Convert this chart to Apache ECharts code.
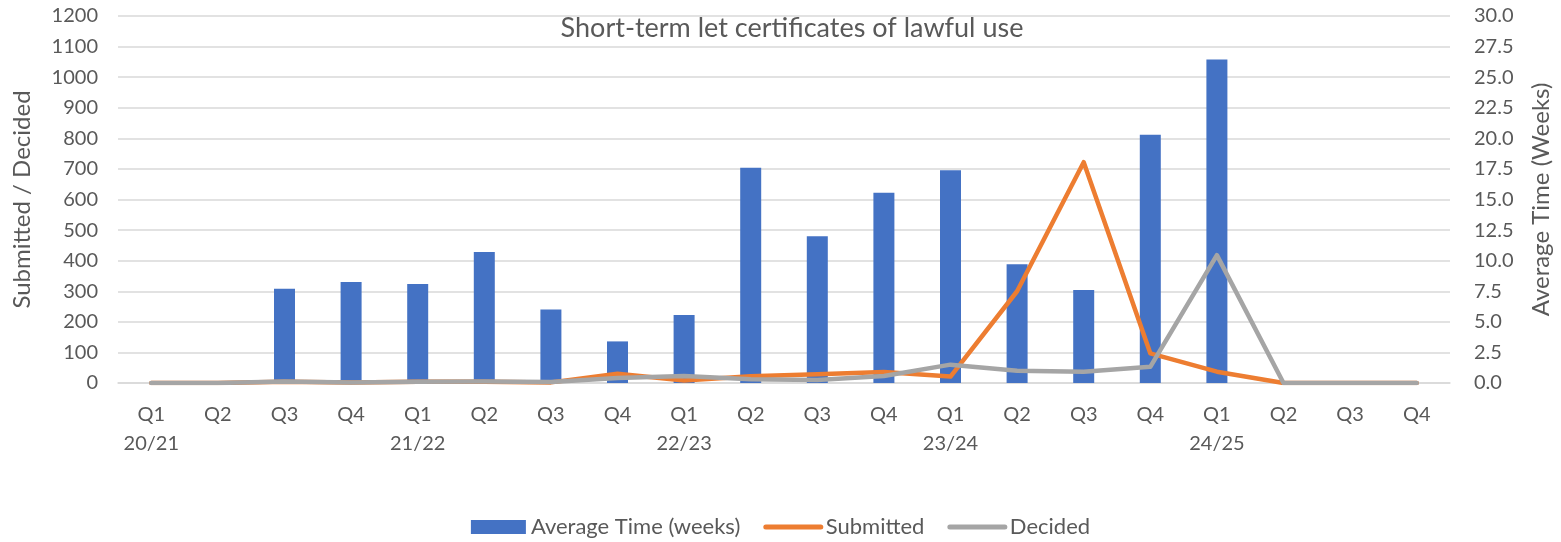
<!DOCTYPE html>
<html>
  <head>
    <meta charset="utf-8" />
    <title>Short-term let certificates</title>
    <script src="https://cdn.jsdelivr.net/npm/echarts@6/dist/echarts.min.js"></script>
  </head>
  <body style="margin: 0; padding: 0; border: 0; background: #fff">
    <div id="main" style="width: 1561px; height: 542px"></div>
    <script type="text/javascript">
      var quarters = ["Q1", "Q2", "Q3", "Q4", "Q1", "Q2", "Q3", "Q4", "Q1", "Q2",
                      "Q3", "Q4", "Q1", "Q2", "Q3", "Q4", "Q1", "Q2", "Q3", "Q4"];
      var years = ["20/21", "21/22", "22/23", "23/24", "24/25"];

      // weeks (right axis)
      var avgTime = [0, 0, 7.7, 8.25, 8.1, 10.7, 6.0, 3.4, 5.55, 17.6,
                     12.0, 15.55, 17.4, 9.7, 7.6, 20.3, 26.45, 0, 0, 0];
      var submitted = [0, 0, 4, 2, 4, 4, 2, 30, 8, 22,
                       29, 36, 21, 300, 722, 97, 37, 0, 0, 0];
      var decided = [0, 0, 5, 2, 4, 5, 3, 16, 23, 12,
                     10, 23, 60, 40, 37, 53, 418, 0, 0, 0];

      var categories = quarters.map(function (q, i) {
        return i % 4 === 0 ? q + "\n" + years[i / 4] : q;
      });

      var font = "Lato";
      var grey = "#595959";

      var myChart = echarts.init(document.getElementById("main"));
      myChart.setOption({
        animation: false,
        textStyle: { fontFamily: font },
        title: {
          text: "Short-term let certificates of lawful use",
          left: 787,
          textAlign: "center",
          top: 10,
          textStyle: { fontFamily: font, fontSize: 27, fontWeight: "normal", color: grey },
        },
        legend: {
          bottom: -1,
          left: "center",
          itemGap: 23,
          itemWidth: 55,
          itemHeight: 14,
          textStyle: { fontFamily: font, fontSize: 22, color: grey },
          data: [
            { name: "Average Time (weeks)", icon: "rect" },
            { name: "Submitted", itemStyle: { opacity: 0 }, lineStyle: { width: 5, cap: "round" } },
            { name: "Decided", itemStyle: { opacity: 0 }, lineStyle: { width: 5, cap: "round" } },
          ],
        },
        grid: { left: 118, right: 110, top: 16, bottom: 159 },
        xAxis: {
          type: "category",
          data: categories,
          axisLine: { lineStyle: { color: "#d9d9d9", width: 1.5 } },
          axisTick: { show: false },
          axisLabel: {
            color: grey,
            fontSize: 20,
            fontFamily: font,
            lineHeight: 29,
            margin: 17,
            interval: 0,
            align: "center",
          },
        },
        yAxis: [
          {
            type: "value",
            min: 0,
            max: 1200,
            interval: 100,
            name: "Submitted / Decided",
            nameLocation: "middle",
            nameGap: 84,
            nameTextStyle: { color: grey, fontSize: 24, fontFamily: font },
            axisLine: { show: false },
            axisTick: { show: false },
            axisLabel: {
              color: grey,
              fontSize: 20,
              fontFamily: font,
              margin: 20,
              formatter: function (v) { return String(v); },
            },
            splitLine: { lineStyle: { color: "#d9d9d9", width: 1.5 } },
          },
          {
            type: "value",
            min: 0,
            max: 30,
            interval: 2.5,
            name: "Average Time (Weeks)",
            nameLocation: "middle",
            nameGap: 79,
            nameRotate: 90,
            nameTextStyle: { color: grey, fontSize: 24, fontFamily: font },
            axisLine: { show: false },
            axisTick: { show: false },
            axisLabel: {
              color: grey,
              fontSize: 20,
              fontFamily: font,
              margin: 24,
              formatter: function (v) { return v.toFixed(1); },
            },
            splitLine: { show: false },
          },
        ],
        series: [
          {
            name: "Average Time (weeks)",
            type: "bar",
            yAxisIndex: 1,
            barWidth: 21,
            itemStyle: { color: "#4472C4" },
            data: avgTime,
          },
          {
            name: "Submitted",
            type: "line",
            yAxisIndex: 0,
            symbol: "none",
            lineStyle: { color: "#ED7D31", width: 4.5, cap: "round", join: "round" },
            itemStyle: { color: "#ED7D31" },
            data: submitted,
          },
          {
            name: "Decided",
            type: "line",
            yAxisIndex: 0,
            symbol: "none",
            lineStyle: { color: "#A5A5A5", width: 4.5, cap: "round", join: "round" },
            itemStyle: { color: "#A5A5A5" },
            data: decided,
          },
        ],
      });
    </script>
  </body>
</html>
